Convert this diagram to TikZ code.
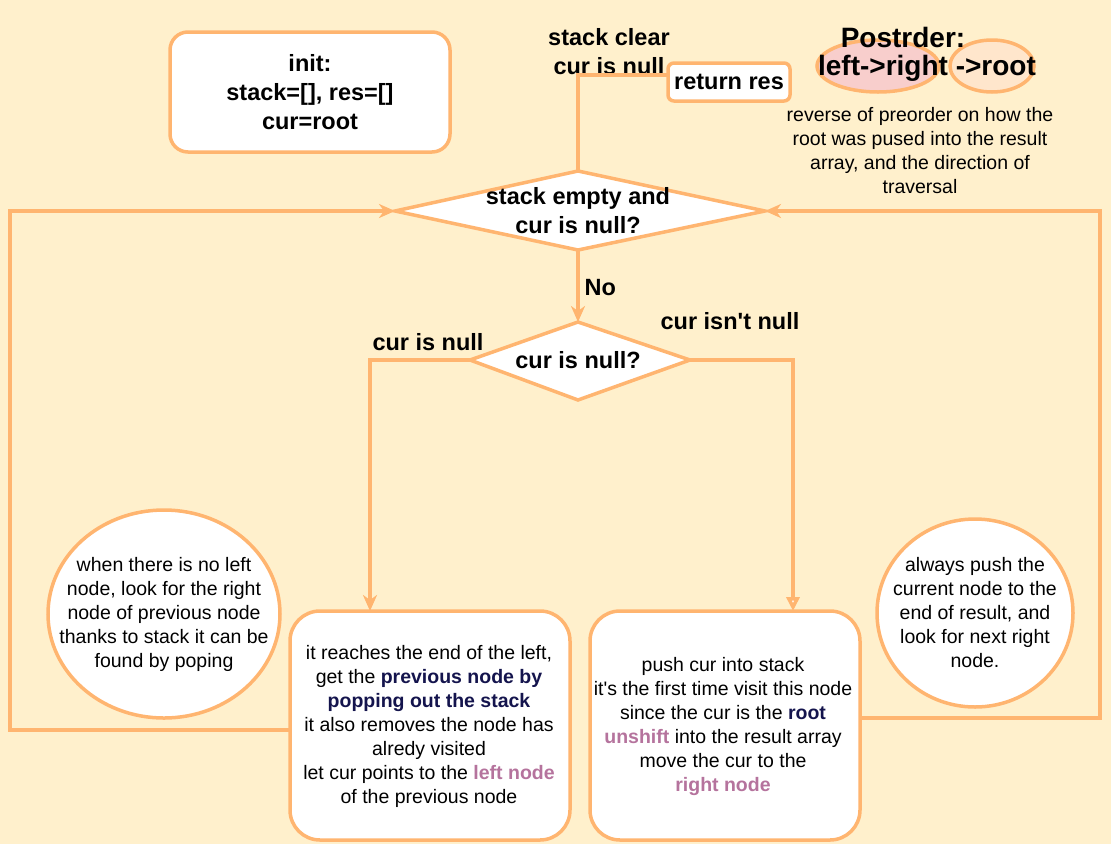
\documentclass[tikz,border=0pt]{standalone}
\usepackage{fontspec}
\setmainfont{Liberation Sans}
\usetikzlibrary{arrows.meta,shapes.geometric}
\newcommand\sq{\XeTeXglyph\XeTeXcharglyph"0027\relax}
\definecolor{bgc}{HTML}{FFF0CC}
\definecolor{stk}{HTML}{FFB570}
\definecolor{navy}{HTML}{14144D}
\definecolor{pinkt}{HTML}{B5739D}
\definecolor{pinkf}{HTML}{F8CECC}
\definecolor{peach}{HTML}{FFE6CC}
\tikzset{
  line/.style={draw=stk,line width=3.5pt},
  arr/.style={line,-{Stealth[length=16pt,width=14pt,inset=5pt]}},
  oarr/.style={line,-{Triangle[open,fill=white,length=14pt,width=13pt]}},
  box/.style={draw=stk,line width=3.5pt,fill=white,rounded corners=18pt},
  bigbox/.style={draw=stk,line width=3.5pt,fill=white,rounded corners=30pt},
  txt/.style={font=\fontsize{19.5}{24}\selectfont,align=center,text=black},
  btxt/.style={font=\bfseries\fontsize{23.5}{29}\selectfont,align=center,text=black},
  bubble/.style={draw=stk,line width=3.5pt,fill=white,ellipse},
  dia/.style={draw=stk,line width=3.5pt,fill=white},
}
\begin{document}
\begin{tikzpicture}[x=1pt,y=-1pt]
\useasboundingbox[fill=bgc] (0,0) rectangle (1111,844);
% init
\draw[box] (170,32) rectangle (450,152);
\node[btxt] (init) at (310,92) {init:\\ stack=[], res=[]\\cur=root};
% return res
\draw[box,rounded corners=6pt] (668,63) rectangle (790,101);
\node[btxt] (ret) at (729,82) {return res};
\node[btxt] (clear) at (609,52) {stack clear\\ cur is null};
% big diamond
\coordinate (dT) at (578,171);
\coordinate (dB) at (578,250);
\coordinate (dL) at (395,211);
\coordinate (dR) at (765,211);
\draw[dia] (dT) -- (dR) -- (dB) -- (dL) -- cycle;
\node[btxt] (d1) at (578,211) {stack empty and\\cur is null?};
% small diamond
\coordinate (sT) at (578,322);
\coordinate (sB) at (578,400);
\coordinate (sL) at (470,360);
\coordinate (sR) at (690,360);
\draw[dia] (sT) -- (sR) -- (sB) -- (sL) -- cycle;
\node[btxt] (d2) at (578,360) {cur is null?};
% connector to return
\coordinate (retL) at (668,75);
\draw[line] (dT) -- (578,75) -- (retL);
% No
\draw[arr] (dB) -- (sT);
\node[btxt,anchor=west] (no) at (581,288) {No};
% bottom boxes
\draw[bigbox] (290,611) rectangle (570,840);
\coordinate (lbT) at (370,611);
\coordinate (lbL) at (290,730);
\node[txt] (lb) at (429,726) {it reaches the end of the left,\\ get the \textbf{\textcolor{navy}{previous node by}}\\ \textbf{\textcolor{navy}{popping out the stack}}\\ it also removes the node has\\ alredy visited\\ let cur points to the \textbf{\textcolor{pinkt}{left node}}\\ of the previous node};
\draw[bigbox] (590,611) rectangle (860,840);
\coordinate (rbT) at (793,611);
\coordinate (rbR) at (860,718);
\node[txt] (rb) at (723,726) {push cur into stack\\ it\sq s the first time visit this node\\ since the cur is the \textbf{\textcolor{navy}{root}}\\ \textbf{\textcolor{pinkt}{unshift}} into the result array\\ move the cur to the\\ \textbf{\textcolor{pinkt}{right node}}};
% branches
\draw[arr] (sL) -- (370,360) -- (lbT);
\node[btxt] (cn) at (428,342) {cur is null};
\draw[oarr] (sR) -- (793,360) -- (rbT);
\node[btxt] (cnn) at (730,321) {cur isn\sq t null};
% loops
\draw[arr] (lbL) -- (10,730) -- (10,211) -- (dL);
\draw[arr] (rbR) -- (1100,718) -- (1100,211) -- (dR);
% bubbles
\node[bubble,minimum width=232pt,minimum height=208pt] (b1) at (164,614) {};
\node[txt] at (164,614) {when there is no left\\ node, look for the right\\ node of previous node\\ thanks to stack it can be\\ found by poping};
\node[bubble,minimum width=196pt,minimum height=188pt] (b2) at (975,613) {};
\node[txt] at (975,613) {always push the\\ current node to the\\ end of result, and\\ look for next right\\ node.};
% postorder
\node[draw=stk,line width=3.5pt,fill=pinkf,ellipse,minimum width=122pt,minimum height=52pt] (e1) at (878,66) {};
\node[draw=stk,line width=3.5pt,fill=peach,ellipse,minimum width=84pt,minimum height=52pt] (e2) at (992,66) {};
\node[font=\bfseries\fontsize{28}{32}\selectfont] (post) at (903,37) {Postrder:};
\node[font=\bfseries\fontsize{28}{32}\selectfont] (lr) at (927,68) {left->right ->root};
\node[txt] (desc) at (920,151) {reverse of preorder on how the\\ root was pused into the result\\ array, and the direction of\\ traversal};
\end{tikzpicture}
\end{document}
